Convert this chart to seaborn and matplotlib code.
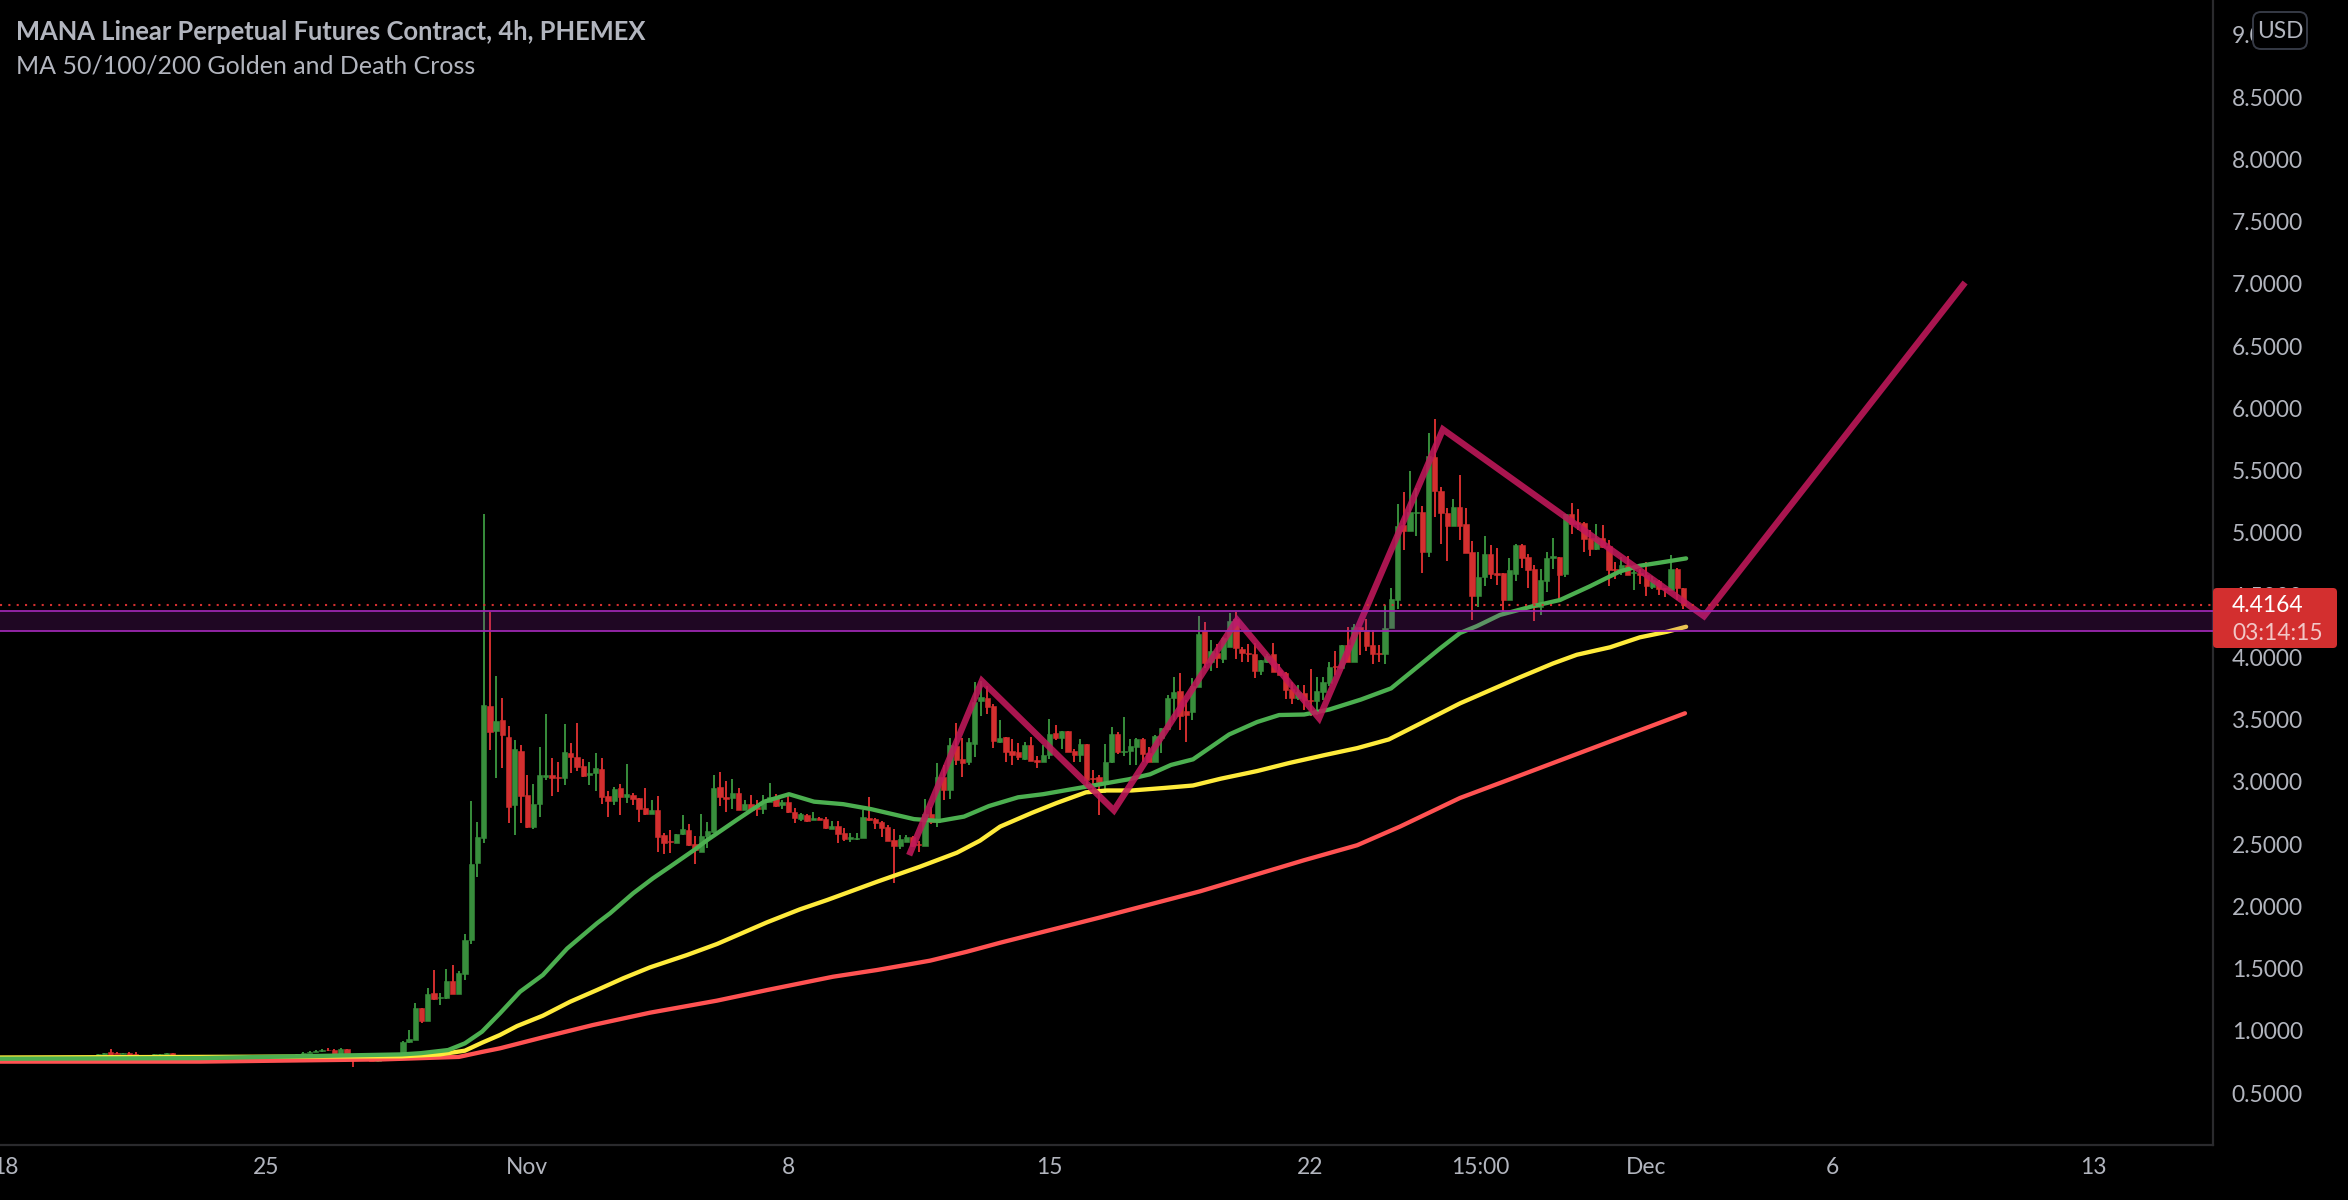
import numpy as np
import matplotlib.pyplot as plt
import matplotlib.transforms as mtransforms
from matplotlib.patches import FancyBboxPatch
import seaborn as sns

## 4h candles, first one is Oct 18 00:00
opens = [
    .773,.765,.765,.757,.746,.749,.752,.760,.773,.773,
    .773,.752,.779,.779,.784,.784,.805,.827,.821,.816,
    .821,.813,.795,.805,.795,.800,.800,.821,.797,.784,
    .795,.795,.805,.792,.805,.784,.792,.805,.800,.787,
    .784,.765,.784,.784,.789,.792,.805,.800,.805,.821,
    .827,.837,.846,.846,.811,.854,.797,.765,.784,.779,
    .757,.768,.765,.792,
    .819,.910,.929,1.183,1.079,1.304,1.264,1.264,1.400,1.296,1.456,
    1.729,2.351,2.552,3.609,3.408,3.497,3.360,2.814,3.248,2.894,
    2.635,2.822,3.041,3.055,3.041,3.033,3.229,3.199,3.127,3.058,
    3.071,3.103,2.886,2.846,2.950,2.875,2.894,2.870,2.790,2.742,
    2.774,2.573,2.522,2.509,2.581,2.613,2.501,2.437,2.565,2.597,
    2.958,2.878,2.870,2.910,2.774,2.822,2.795,2.782,2.841,2.878,
    2.814,2.838,2.758,2.701,2.734,2.693,2.709,2.701,2.621,2.645,
    2.586,2.541,2.541,2.549,2.707,2.701,2.675,2.637,2.533,2.485,
    2.517,2.557,2.501,2.485,2.742,2.677,3.039,2.934,3.288,3.180,
    3.161,3.303,3.649,3.673,3.608,3.322,3.359,3.247,3.239,3.183,
    3.295,3.175,3.159,3.215,3.392,3.351,3.408,3.244,3.215,3.303,
    3.030,3.038,2.982,3.159,3.384,3.239,3.250,3.279,3.343,3.234,
    3.159,3.351,3.424,3.673,3.729,3.568,3.560,3.761,4.211,3.962,
    4.034,3.989,4.082,4.307,4.066,4.034,4.026,3.890,3.965,4.026,
    3.898,3.873,3.745,3.673,3.713,3.657,3.649,3.721,3.793,3.930,
    3.916,4.098,3.962,4.243,4.219,4.098,4.031,4.026,4.235,4.460,
    5.062,5.017,5.156,5.167,4.845,5.608,5.335,5.159,5.054,5.207,
    5.070,4.845,4.492,4.644,4.829,4.677,4.677,4.460,4.669,4.901,
    4.805,4.709,4.404,4.612,4.797,4.805,4.669,5.150,5.086,5.078,
    4.958,4.869,4.958,4.893,4.709,4.693,4.741,4.674,4.674,4.661,
    4.564,4.612,4.556,4.540,4.709,4.556,
]
closes = [
    .752,.752,.752,.746,.757,.757,.765,.773,.760,.757,
    .754,.779,.792,.797,.792,.813,.821,.808,.813,.824,
    .805,.792,.805,.792,.813,.811,.819,.792,.784,.800,
    .805,.805,.792,.805,.784,.800,.805,.792,.784,.771,
    .771,.784,.792,.797,.797,.802,.795,.811,.824,.832,
    .840,.846,.843,.811,.854,.792,.765,.789,.765,.760,
    .779,.779,.800,.819,
    .913,.934,1.183,1.079,1.296,1.256,1.272,1.400,1.296,1.465,1.729,
    2.340,2.554,3.617,3.403,3.489,3.376,2.801,3.264,2.886,2.635,
    2.822,3.055,3.055,3.033,3.033,3.240,3.199,3.119,3.047,3.074,
    3.108,2.881,2.846,2.942,2.878,2.902,2.862,2.782,2.739,2.771,
    2.557,2.509,2.514,2.581,2.621,2.490,2.453,2.565,2.605,2.950,
    2.878,2.862,2.910,2.774,2.822,2.774,2.784,2.846,2.878,2.806,
    2.838,2.758,2.709,2.742,2.685,2.707,2.693,2.629,2.645,2.581,
    2.541,2.554,2.552,2.718,2.693,2.669,2.629,2.525,2.485,2.541,
    2.554,2.485,2.490,2.742,2.677,3.039,2.934,3.296,3.175,3.153,
    3.319,3.643,3.681,3.600,3.327,3.354,3.239,3.215,3.202,3.295,
    3.167,3.159,3.215,3.384,3.351,3.408,3.239,3.215,3.303,3.014,
    3.022,2.998,3.159,3.384,3.239,3.250,3.287,3.343,3.223,3.159,
    3.368,3.432,3.673,3.721,3.528,3.536,3.769,4.187,3.954,4.050,
    3.994,4.155,4.291,4.074,4.034,4.026,3.890,3.978,4.010,3.882,
    3.857,3.737,3.673,3.721,3.657,3.649,3.729,3.801,3.922,3.922,
    4.098,3.962,4.243,4.211,4.090,4.026,4.026,4.235,4.468,5.054,
    5.017,5.167,5.167,4.845,5.616,5.335,5.159,5.054,5.207,5.054,
    4.837,4.492,4.644,4.829,4.669,4.661,4.460,4.701,4.901,4.797,
    4.701,4.404,4.620,4.797,4.813,4.661,5.150,5.070,5.070,4.950,
    4.869,4.958,4.885,4.701,4.701,4.741,4.661,4.687,4.661,4.572,
    4.620,4.548,4.548,4.709,4.556,4.4164,
]
highs = [
    .784,.768,.773,.757,.757,.757,.765,.773,.773,.779,
    .773,.779,.792,.800,.792,.813,.821,.854,.832,.824,
    .832,.827,.805,.805,.813,.811,.819,.821,.797,.800,
    .805,.805,.805,.805,.805,.800,.805,.805,.800,.787,
    .790,.784,.792,.797,.797,.802,.805,.811,.830,.838,
    .845,.857,.859,.852,.860,.857,.797,.805,.792,.779,
    .790,.779,.815,.824,
    .918,1.007,1.224,1.183,1.344,1.489,1.304,1.497,1.529,1.481,1.778,
    2.846,2.677,5.151,4.367,3.850,3.671,3.448,3.336,3.296,3.055,
    2.983,3.280,3.545,3.189,3.159,3.464,3.312,3.472,3.183,3.159,
    3.232,3.191,2.926,2.958,2.983,3.143,2.910,2.870,2.950,2.854,
    2.886,2.586,2.613,2.581,2.734,2.661,2.565,2.742,2.677,3.055,
    3.079,3.007,3.023,2.950,2.854,2.894,2.854,2.894,2.991,2.902,
    2.854,2.894,2.790,2.750,2.742,2.758,2.718,2.718,2.685,2.685,
    2.629,2.589,2.589,2.774,2.878,2.709,2.683,2.653,2.621,2.573,
    2.570,2.565,2.525,2.862,2.798,3.151,3.135,3.352,3.472,3.349,
    3.349,3.801,3.812,3.769,3.625,3.496,3.359,3.343,3.311,3.319,
    3.359,3.207,3.295,3.504,3.456,3.408,3.408,3.263,3.343,3.303,
    3.094,3.054,3.303,3.440,3.400,3.520,3.343,3.351,3.351,3.279,
    3.376,3.432,3.697,3.841,3.873,3.657,3.833,4.331,4.283,4.139,
    4.106,4.163,4.355,4.363,4.082,4.106,4.114,3.978,4.026,4.112,
    3.946,3.882,3.801,3.777,3.777,3.906,3.841,3.841,3.962,4.050,
    4.098,4.243,4.267,4.243,4.307,4.219,4.098,4.420,4.556,5.231,
    5.327,5.496,5.359,5.215,5.801,5.913,5.367,5.199,5.271,5.464,
    5.199,4.934,4.845,4.974,4.901,4.877,4.677,4.797,4.910,4.910,
    4.829,4.741,4.709,4.845,4.958,4.805,5.150,5.239,5.191,5.086,
    5.022,5.070,5.062,4.942,4.765,4.805,4.813,4.725,4.709,4.765,
    4.653,4.620,4.556,4.821,4.717,4.556,
]
lows = [
    .749,.752,.752,.746,.746,.749,.752,.760,.760,.752,
    .754,.752,.779,.779,.784,.784,.805,.808,.813,.816,
    .805,.792,.795,.792,.795,.800,.800,.792,.784,.784,
    .795,.795,.792,.792,.784,.784,.792,.792,.784,.771,
    .765,.765,.784,.784,.789,.792,.795,.800,.805,.821,
    .827,.832,.840,.808,.811,.792,.712,.763,.763,.760,
    .752,.768,.762,.790,
    .819,.902,.929,1.063,1.079,1.248,1.207,1.256,1.296,1.296,1.408,
    1.697,2.238,2.506,3.256,3.033,3.114,2.672,2.576,2.667,2.632,
    2.624,2.720,3.015,2.886,2.918,2.975,3.071,3.087,3.039,2.975,
    2.926,2.822,2.718,2.814,2.734,2.830,2.814,2.677,2.734,2.742,
    2.437,2.420,2.428,2.509,2.573,2.485,2.340,2.437,2.469,2.586,
    2.806,2.758,2.782,2.774,2.774,2.774,2.726,2.742,2.838,2.798,
    2.782,2.750,2.669,2.685,2.677,2.693,2.693,2.621,2.621,2.509,
    2.522,2.517,2.533,2.549,2.685,2.621,2.557,2.525,2.184,2.461,
    2.517,2.477,2.437,2.485,2.661,2.637,2.854,2.862,3.135,3.041,
    3.137,3.202,3.528,3.544,3.271,3.314,3.159,3.135,3.175,3.175,
    3.167,3.111,3.159,3.183,3.335,3.263,3.239,3.159,3.159,2.974,
    2.934,2.733,2.910,3.151,3.223,3.207,3.135,3.135,3.159,3.159,
    3.159,3.231,3.416,3.496,3.416,3.319,3.496,3.761,3.914,3.890,
    3.914,3.954,4.082,3.986,3.962,3.962,3.833,3.857,3.954,3.882,
    3.857,3.665,3.625,3.657,3.576,3.528,3.536,3.657,3.769,3.857,
    3.914,3.962,3.962,4.018,4.050,3.946,3.962,3.946,4.235,4.388,
    4.861,5.017,4.974,4.677,4.805,5.126,4.910,4.773,5.054,4.942,
    4.837,4.299,4.404,4.572,4.628,4.580,4.371,4.460,4.612,4.717,
    4.556,4.291,4.339,4.524,4.709,4.468,4.644,4.990,5.022,4.845,
    4.813,4.861,4.877,4.572,4.628,4.661,4.661,4.540,4.588,4.492,
    4.548,4.500,4.484,4.540,4.460,4.388,
]

## moving averages, day count from Oct 18
ma50_days = [-0.2,5.23,7.91,10.64,11.15,11.88,12.33,12.79,13.27,13.81,14.42,15.07,15.87,16.22,16.84,17.37,17.83,18.5,18.82,19.6,20.35,21.02,21.69,22.47,23.22,24.37,25.04,25.71,26.38,27.16,27.83,28.98,30.13,30.7,31.26,31.85,32.82,33.57,34.16,34.83,35.5,36.35,37.16,37.96,38.47,39.01,39.46,40.08,40.96,41.69,42.49,43.3,43.83,44.37,45.07]
ma50_vals = [.775,.78,.795,.81,.82,.845,.899,.993,1.14,1.314,1.448,1.66,1.863,1.943,2.104,2.224,2.318,2.457,2.53,2.69,2.84,2.90,2.84,2.82,2.78,2.70,2.685,2.72,2.805,2.875,2.90,2.96,3.02,3.06,3.135,3.18,3.38,3.48,3.536,3.54,3.58,3.66,3.75,3.945,4.07,4.195,4.25,4.34,4.41,4.46,4.57,4.69,4.735,4.76,4.794]
ma100_days = [-0.2,5.23,10.64,11.66,12.33,12.79,13.27,13.73,14.42,15.15,15.87,16.57,17.29,18.28,19.09,20.43,21.31,22.04,23.38,24.53,25.52,26.14,26.68,27.53,28.2,28.98,29.54,30.21,31.07,31.85,32.6,33.57,34.42,35.39,36.25,37.1,37.96,39.01,40.62,41.5,42.14,43.03,43.83,44.56,45.07]
ma100_vals = [.785,.79,.795,.81,.84,.904,.966,1.038,1.121,1.233,1.327,1.421,1.509,1.608,1.697,1.871,1.975,2.05,2.197,2.318,2.43,2.527,2.64,2.75,2.83,2.915,2.93,2.93,2.95,2.97,3.025,3.086,3.15,3.215,3.27,3.34,3.47,3.63,3.84,3.95,4.02,4.08,4.16,4.205,4.245]
ma200_days = [-0.2,5.23,10.13,12.17,12.79,13.27,14.42,15.76,17.29,19.09,20.43,22.2,23.38,24.8,25.79,26.68,29.36,32.04,34.83,36.25,37.4,39.01,40.08,45.04]
ma200_vals = [.752,.752,.77,.79,.83,.859,.947,1.046,1.145,1.242,1.327,1.434,1.488,1.563,1.635,1.707,1.91,2.12,2.37,2.49,2.64,2.87,2.99,3.55]

## hand drawn pattern
drawn_days = [24.24,26.19,29.73,33.03,35.23,38.55,45.55,52.55]
drawn_vals = [2.41,3.81,2.77,4.30,3.51,5.83,4.33,7.01]

zone_top = 4.372
zone_bottom = 4.211
last_price = 4.4164

price_ticks = [0.5,1,1.5,2,2.5,3,3.5,4,4.5,5,5.5,6,6.5,7,7.5,8,8.5,9]
date_ticks = [0,7,14,21,28,35,39.55,44,49,56]
date_labels = ['18','25','Nov','8','15','22','15:00','Dec','6','13']

GREEN = '#388e3c'
RED = '#d32f2f'
TXT = '#b2b5be'
W, H = 2348, 1200

sns.set_theme(style='dark', rc={'axes.facecolor': 'black', 'figure.facecolor': 'black'})
plt.rcParams['font.family'] = ['Lato', 'DejaVu Sans']

fig = plt.figure(figsize=(W / 100, H / 100), dpi=100)
ax = fig.add_axes([0, 1 - 1145 / H, 2213 / W, 1145 / H])

## candles
days = np.arange(len(opens)) / 6
o, c, hi, lo = map(np.array, (opens, closes, highs, lows))
colors = np.where(c >= o, GREEN, RED)
ax.vlines(days, lo, hi, colors=colors, lw=1.4, zorder=2)
ax.bar(days, np.abs(c - o), bottom=np.minimum(o, c), width=0.142, color=colors,
       edgecolor=colors, linewidth=0.4, zorder=2.1)

## MA lines, pattern
for xs, ys, col in [(ma200_days, ma200_vals, '#ff5252'),
                    (ma100_days, ma100_vals, '#ffeb3b'),
                    (ma50_days, ma50_vals, '#4caf50')]:
    sns.lineplot(x=xs, y=ys, color=col, lw=3.1, ax=ax, sort=False, estimator=None,
                 legend=False, zorder=3, solid_joinstyle='round')
sns.lineplot(x=drawn_days, y=drawn_vals, color='#c2185b', lw=4.6, alpha=0.88, ax=ax,
             sort=False, estimator=None, legend=False, zorder=4,
             solid_joinstyle='miter', solid_capstyle='butt')

## support zone + last price line
ax.axhspan(zone_bottom, zone_top, facecolor='#9c27b0', alpha=0.2, lw=0, zorder=5)
ax.axhline(zone_top, color='#9c27b0', lw=1.3, zorder=5)
ax.axhline(zone_bottom, color='#9c27b0', lw=1.3, zorder=5)
ax.axhline(last_price, color=RED, lw=1.5, ls=(0, (1, 3)), dash_capstyle='butt', zorder=5)

ax.set_xlim(-5 / 37.3, 2208 / 37.3)
ax.set_ylim(8.5 - 1048 / 124.5, 8.5 + 97 / 124.5)
ax.grid(False)
for side in ['top', 'left']:
    ax.spines[side].set_visible(False)
for side in ['right', 'bottom']:
    ax.spines[side].set_color('#2a2a2d')
    ax.spines[side].set_linewidth(1.6)
ax.set_yticks(price_ticks, [f'{p:.4f}' for p in price_ticks])
ax.set_xticks(date_ticks, date_labels)
ax.yaxis.tick_right()
ax.tick_params(axis='y', length=0, pad=13.5, labelsize=16.4, labelcolor=TXT)
ax.tick_params(axis='x', length=0, pad=9, labelsize=16.4, labelcolor=TXT)

## right hand scale bits, all in figure pixels
px = mtransforms.IdentityTransform()
fig.add_artist(FancyBboxPatch((2255, H - 47), 50, 33, boxstyle='round,pad=2,rounding_size=8',
                              fc='black', ec='#363a45', lw=1.4, transform=px, zorder=10))
fig.text(2280 / W, 1 - 31 / H, 'USD', color=TXT, fontsize=16.4, ha='center', va='center', zorder=11)
fig.add_artist(FancyBboxPatch((2213, H - 648), 124, 60, boxstyle='round,pad=0,rounding_size=4',
                              fc=RED, ec=RED, lw=0, transform=px, zorder=10))
fig.text(2232 / W, 1 - 606 / H, '4.4164', color='white', fontsize=16.4, ha='left', va='center', zorder=11)
fig.text(2232 / W, 1 - 633 / H, '03:14:15', color='#f2c6c6', fontsize=16.4, ha='left', va='center', zorder=11)

## header
fig.text(16 / W, 1 - 32 / H, 'MANA Linear Perpetual Futures Contract, 4h, PHEMEX',
         color=TXT, fontsize=18.4, fontweight='bold', ha='left', va='center')
fig.text(16 / W, 1 - 66 / H, 'MA 50/100/200 Golden and Death Cross',
         color=TXT, fontsize=18, ha='left', va='center')

fig.savefig('out.png', dpi=100, facecolor='black')
